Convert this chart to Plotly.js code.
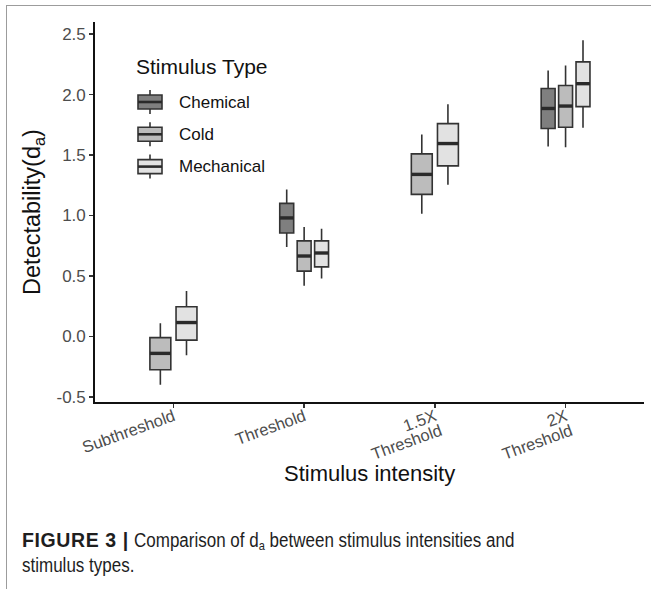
<!DOCTYPE html>
<html>
<head>
<meta charset="utf-8">
<script src="https://cdn.plot.ly/plotly-3.0.1.min.js"></script>
<style>
  html, body { margin: 0; padding: 0; background: #fff; }
  #wrap { position: relative; width: 651px; height: 589px; overflow: hidden; }
  #chart { width: 651px; height: 589px; }
  #frame {
    position: absolute; left: 6px; top: 5px; right: -4px; bottom: -4px;
    border-left: 1.5px solid #9c9c9c; border-top: 1.5px solid #9c9c9c;
    pointer-events: none;
  }
  #caption {
    position: absolute; left: 22px; top: 528px; width: 620px;
    font-family: 'Liberation Sans', Arial, sans-serif; color: #1e1e1e;
    font-size: 20px; line-height: 25px; white-space: nowrap;
  }
  #caption .line { display: block; height: 25px; }
  #caption b { font-size: 19.5px; letter-spacing: 0.6px; }
  #caption .narrow { display: inline-block; transform: scaleX(0.85); transform-origin: left center; }
  #caption sub { font-size: 13px; vertical-align: -3px; line-height: 0; }
</style>
</head>
<body>
<div id="wrap">
  <div id="chart"></div>
  <div id="caption">
    <span class="line"><b>FIGURE 3 |</b> <span class="narrow">Comparison of d<sub>a</sub> between stimulus intensities and</span></span>
    <span class="line"><span class="narrow">stimulus types.</span></span>
  </div>
  <div id="frame"></div>
</div>
<script>
// Stimulus intensities on the x axis
const intensities = ['Subthreshold', 'Threshold', '1.5X<br>Threshold', '2X<br>Threshold'];
const stimulusTypes = ['Chemical', 'Cold', 'Mechanical'];
const yTickValues = [-0.5, 0, 0.5, 1, 1.5, 2, 2.5];
const yTickLabels = ['-0.5', '0.0', '0.5', '1.0', '1.5', '2.0', '2.5'];

// Five-number summaries of d_a, one entry per intensity (null = type not tested)
const chemicalLower  = [null, 0.74, null, 1.57];
const chemicalQ1     = [null, 0.855, null, 1.72];
const chemicalMedian = [null, 0.98, null, 1.885];
const chemicalQ3     = [null, 1.10, null, 2.05];
const chemicalUpper  = [null, 1.215, null, 2.20];

const coldLower  = [-0.40, 0.42, 1.015, 1.565];
const coldQ1     = [-0.275, 0.54, 1.175, 1.73];
const coldMedian = [-0.14, 0.665, 1.34, 1.905];
const coldQ3     = [-0.01, 0.79, 1.51, 2.075];
const coldUpper  = [0.11, 0.905, 1.67, 2.24];

const mechanicalLower  = [-0.155, 0.48, 1.255, 1.725];
const mechanicalQ1     = [-0.03, 0.575, 1.41, 1.90];
const mechanicalMedian = [0.115, 0.69, 1.595, 2.09];
const mechanicalQ3     = [0.245, 0.79, 1.76, 2.27];
const mechanicalUpper  = [0.375, 0.89, 1.92, 2.45];

const summaries = {
  Chemical:   { lower: chemicalLower, q1: chemicalQ1, median: chemicalMedian, q3: chemicalQ3, upper: chemicalUpper },
  Cold:       { lower: coldLower, q1: coldQ1, median: coldMedian, q3: coldQ3, upper: coldUpper },
  Mechanical: { lower: mechanicalLower, q1: mechanicalQ1, median: mechanicalMedian, q3: mechanicalQ3, upper: mechanicalUpper }
};
const fills = { Chemical: '#7f7f7f', Cold: '#bcbcbc', Mechanical: '#e2e2e2' };
const edge = '#333333';

// Dodge the boxes present at each intensity side by side
const groupWidth = 0.4, padding = 0.2;
const traces = [];
const medianX = [], medianY = [];
intensities.forEach((lab, i) => {
  const present = stimulusTypes.filter(t => summaries[t].median[i] !== null);
  const slot = groupWidth / present.length;
  const w = slot * (1 - padding);
  present.forEach((t, k) => {
    const s = summaries[t];
    const pos = i - groupWidth / 2 + slot * (k + 0.5);
    traces.push({
      type: 'box',
      x: [pos],
      lowerfence: [s.lower[i]], q1: [s.q1[i]], median: [s.median[i]],
      q3: [s.q3[i]], upperfence: [s.upper[i]],
      width: w,
      whiskerwidth: 0,
      fillcolor: fills[t],
      line: { color: edge, width: 1.6 },
      name: t,
      showlegend: false,
      hoverinfo: 'skip'
    });
    medianX.push(pos - w / 2, pos + w / 2, null);
    medianY.push(s.median[i], s.median[i], null);
  });
});
// Thicker median bars on top of the boxes
traces.push({
  type: 'scatter', mode: 'lines', x: medianX, y: medianY,
  line: { color: '#2a2a2a', width: 3.4 },
  showlegend: false, hoverinfo: 'skip'
});

const W = 651, H = 589;
const M = { l: 95, r: 7, t: 22, b: 187 };
const pw = W - M.l - M.r, ph = H - M.t - M.b;
const px = v => (v - M.l) / pw;
const py = v => (H - M.b - v) / ph;

const font = 'Liberation Sans, Arial, sans-serif';

// Legend keys: whisker, box and median drawn as shapes, labels as annotations
const shapes = [];
const annotations = [];
annotations.push({
  xref: 'paper', yref: 'paper', x: px(134), y: py(66),
  xanchor: 'left', yanchor: 'middle', showarrow: false,
  text: 'Stimulus Type', font: { family: font, size: 21, color: '#111' }
});
stimulusTypes.forEach((t, k) => {
  const cy = 102 + 32.3 * k;
  shapes.push({ type: 'line', xref: 'paper', yref: 'paper',
    x0: px(150), x1: px(150), y0: py(cy - 12), y1: py(cy + 12),
    line: { color: edge, width: 1.6 } });
  shapes.push({ type: 'rect', xref: 'paper', yref: 'paper',
    x0: px(138), x1: px(162), y0: py(cy - 7), y1: py(cy + 7),
    fillcolor: fills[t], line: { color: edge, width: 1.6 } });
  shapes.push({ type: 'line', xref: 'paper', yref: 'paper',
    x0: px(138), x1: px(162), y0: py(cy), y1: py(cy),
    line: { color: '#2a2a2a', width: 2.6 } });
  annotations.push({
    xref: 'paper', yref: 'paper', x: px(177), y: py(cy),
    xanchor: 'left', yanchor: 'middle', showarrow: false,
    text: t, font: { family: font, size: 17, color: '#111' }
  });
});

// x axis title
annotations.push({
  xref: 'paper', yref: 'paper', x: 0.5, y: py(474),
  xanchor: 'center', yanchor: 'middle', showarrow: false,
  text: 'Stimulus intensity', font: { family: font, size: 22, color: '#111' }
});

const layout = {
  width: W, height: H,
  margin: M,
  paper_bgcolor: '#ffffff', plot_bgcolor: '#ffffff',
  font: { family: font, color: '#1a1a1a' },
  showlegend: false,
  xaxis: {
    range: [-0.6, 3.6],
    tickmode: 'array', tickvals: [0, 1, 2, 3], ticktext: intensities,
    tickangle: -20,
    ticks: 'outside', ticklen: 4, tickwidth: 1.3, tickcolor: '#333',
    ticklabelstandoff: -7,
    showline: true, linecolor: '#111', linewidth: 1.8,
    showgrid: false, zeroline: false,
    tickfont: { size: 16.5, color: '#4d4d4d' }
  },
  yaxis: {
    range: [-0.542, 2.6],
    tickmode: 'array', tickvals: yTickValues, ticktext: yTickLabels,
    ticks: 'outside', ticklen: 4, tickwidth: 1.3, tickcolor: '#333',
    showline: true, linecolor: '#111', linewidth: 1.8,
    showgrid: false, zeroline: false,
    tickfont: { size: 17, color: '#4d4d4d' },
    title: { text: 'Detectability(d<sub>a</sub>)', font: { size: 23.5, color: '#111' }, standoff: 9 }
  },
  shapes: shapes,
  annotations: annotations
};

Plotly.newPlot('chart', traces, layout, { staticPlot: true, displayModeBar: false }).then(gd => {
  // tighter leading for the two-line category labels
  gd.querySelectorAll('.xtick text tspan.line').forEach(ts => {
    const dy = parseFloat(ts.getAttribute('dy'));
    if (dy) ts.setAttribute('dy', (dy * 0.95 / 1.3) + 'em');
  });
});
</script>
</body>
</html>
